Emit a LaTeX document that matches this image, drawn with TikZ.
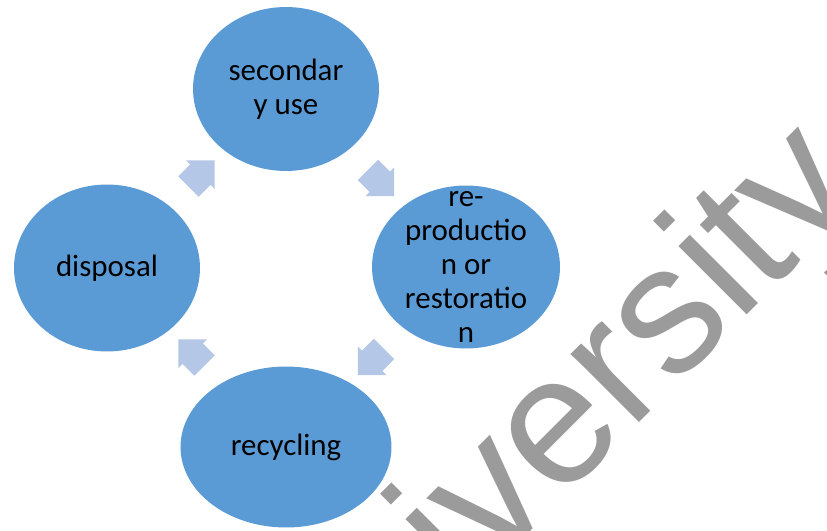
\documentclass[tikz,border=0pt]{standalone}
\usepackage{fontspec}
\setmainfont{Carlito}
\newfontfamily\wmfont{Liberation Sans}
\usetikzlibrary{shapes.geometric,shapes.arrows,calc}
\definecolor{blue5}{HTML}{5B9BD5}
\definecolor{blue8}{HTML}{B4C7E7}
\definecolor{grey6}{HTML}{9B9B9B}

\begin{document}
\begin{tikzpicture}[x=0.02cm, y=-0.02cm,
  blob/.style={ellipse, fill=blue5, inner sep=0pt},
  lbl/.style={align=center, font=\fontsize{17.6}{19.3}\selectfont, inner sep=0pt},
  flow/.style={single arrow, fill=blue8, inner xsep=0pt, inner ysep=0.28cm, minimum height=0.74cm, single arrow head extend=0.12cm},
  wmark/.style={font=\wmfont\fontsize{104}{104}\selectfont, text=grey6, rotate=45, anchor=base west, inner sep=0pt}]
\useasboundingbox (0,0) rectangle (827,530);
\clip (0,0) rectangle (827,530);
\node[wmark] (wm) at (300,762) {University};
\node[blob, minimum width=3.72cm, minimum height=3.28cm] (sec) at (286,89) {};
\node[blob, minimum width=3.76cm, minimum height=3.26cm] (rep) at (466,267) {};
\node[blob, minimum width=4.22cm, minimum height=3.22cm] (rec) at (286,447) {};
\node[blob, minimum width=3.72cm, minimum height=3.34cm] (dis) at (107,268) {};
\node[lbl] (secT) at (sec) {secondar\\y use};
\node[lbl] (repT) at (rep) {re-\\productio\\n or\\restoratio\\n};
\node[lbl] (recT) at (rec) {recycling};
\node[lbl] (disT) at (dis) {disposal};
\node[flow, rotate=-45] (a1) at ($(sec)!0.5!(rep)$) {};
\node[flow, rotate=-135] (a2) at ($(rep)!0.5!(rec)$) {};
\node[flow, rotate=135] (a3) at ($(rec)!0.5!(dis)$) {};
\node[flow, rotate=45] (a4) at ($(dis)!0.5!(sec)$) {};
\end{tikzpicture}
\end{document}
